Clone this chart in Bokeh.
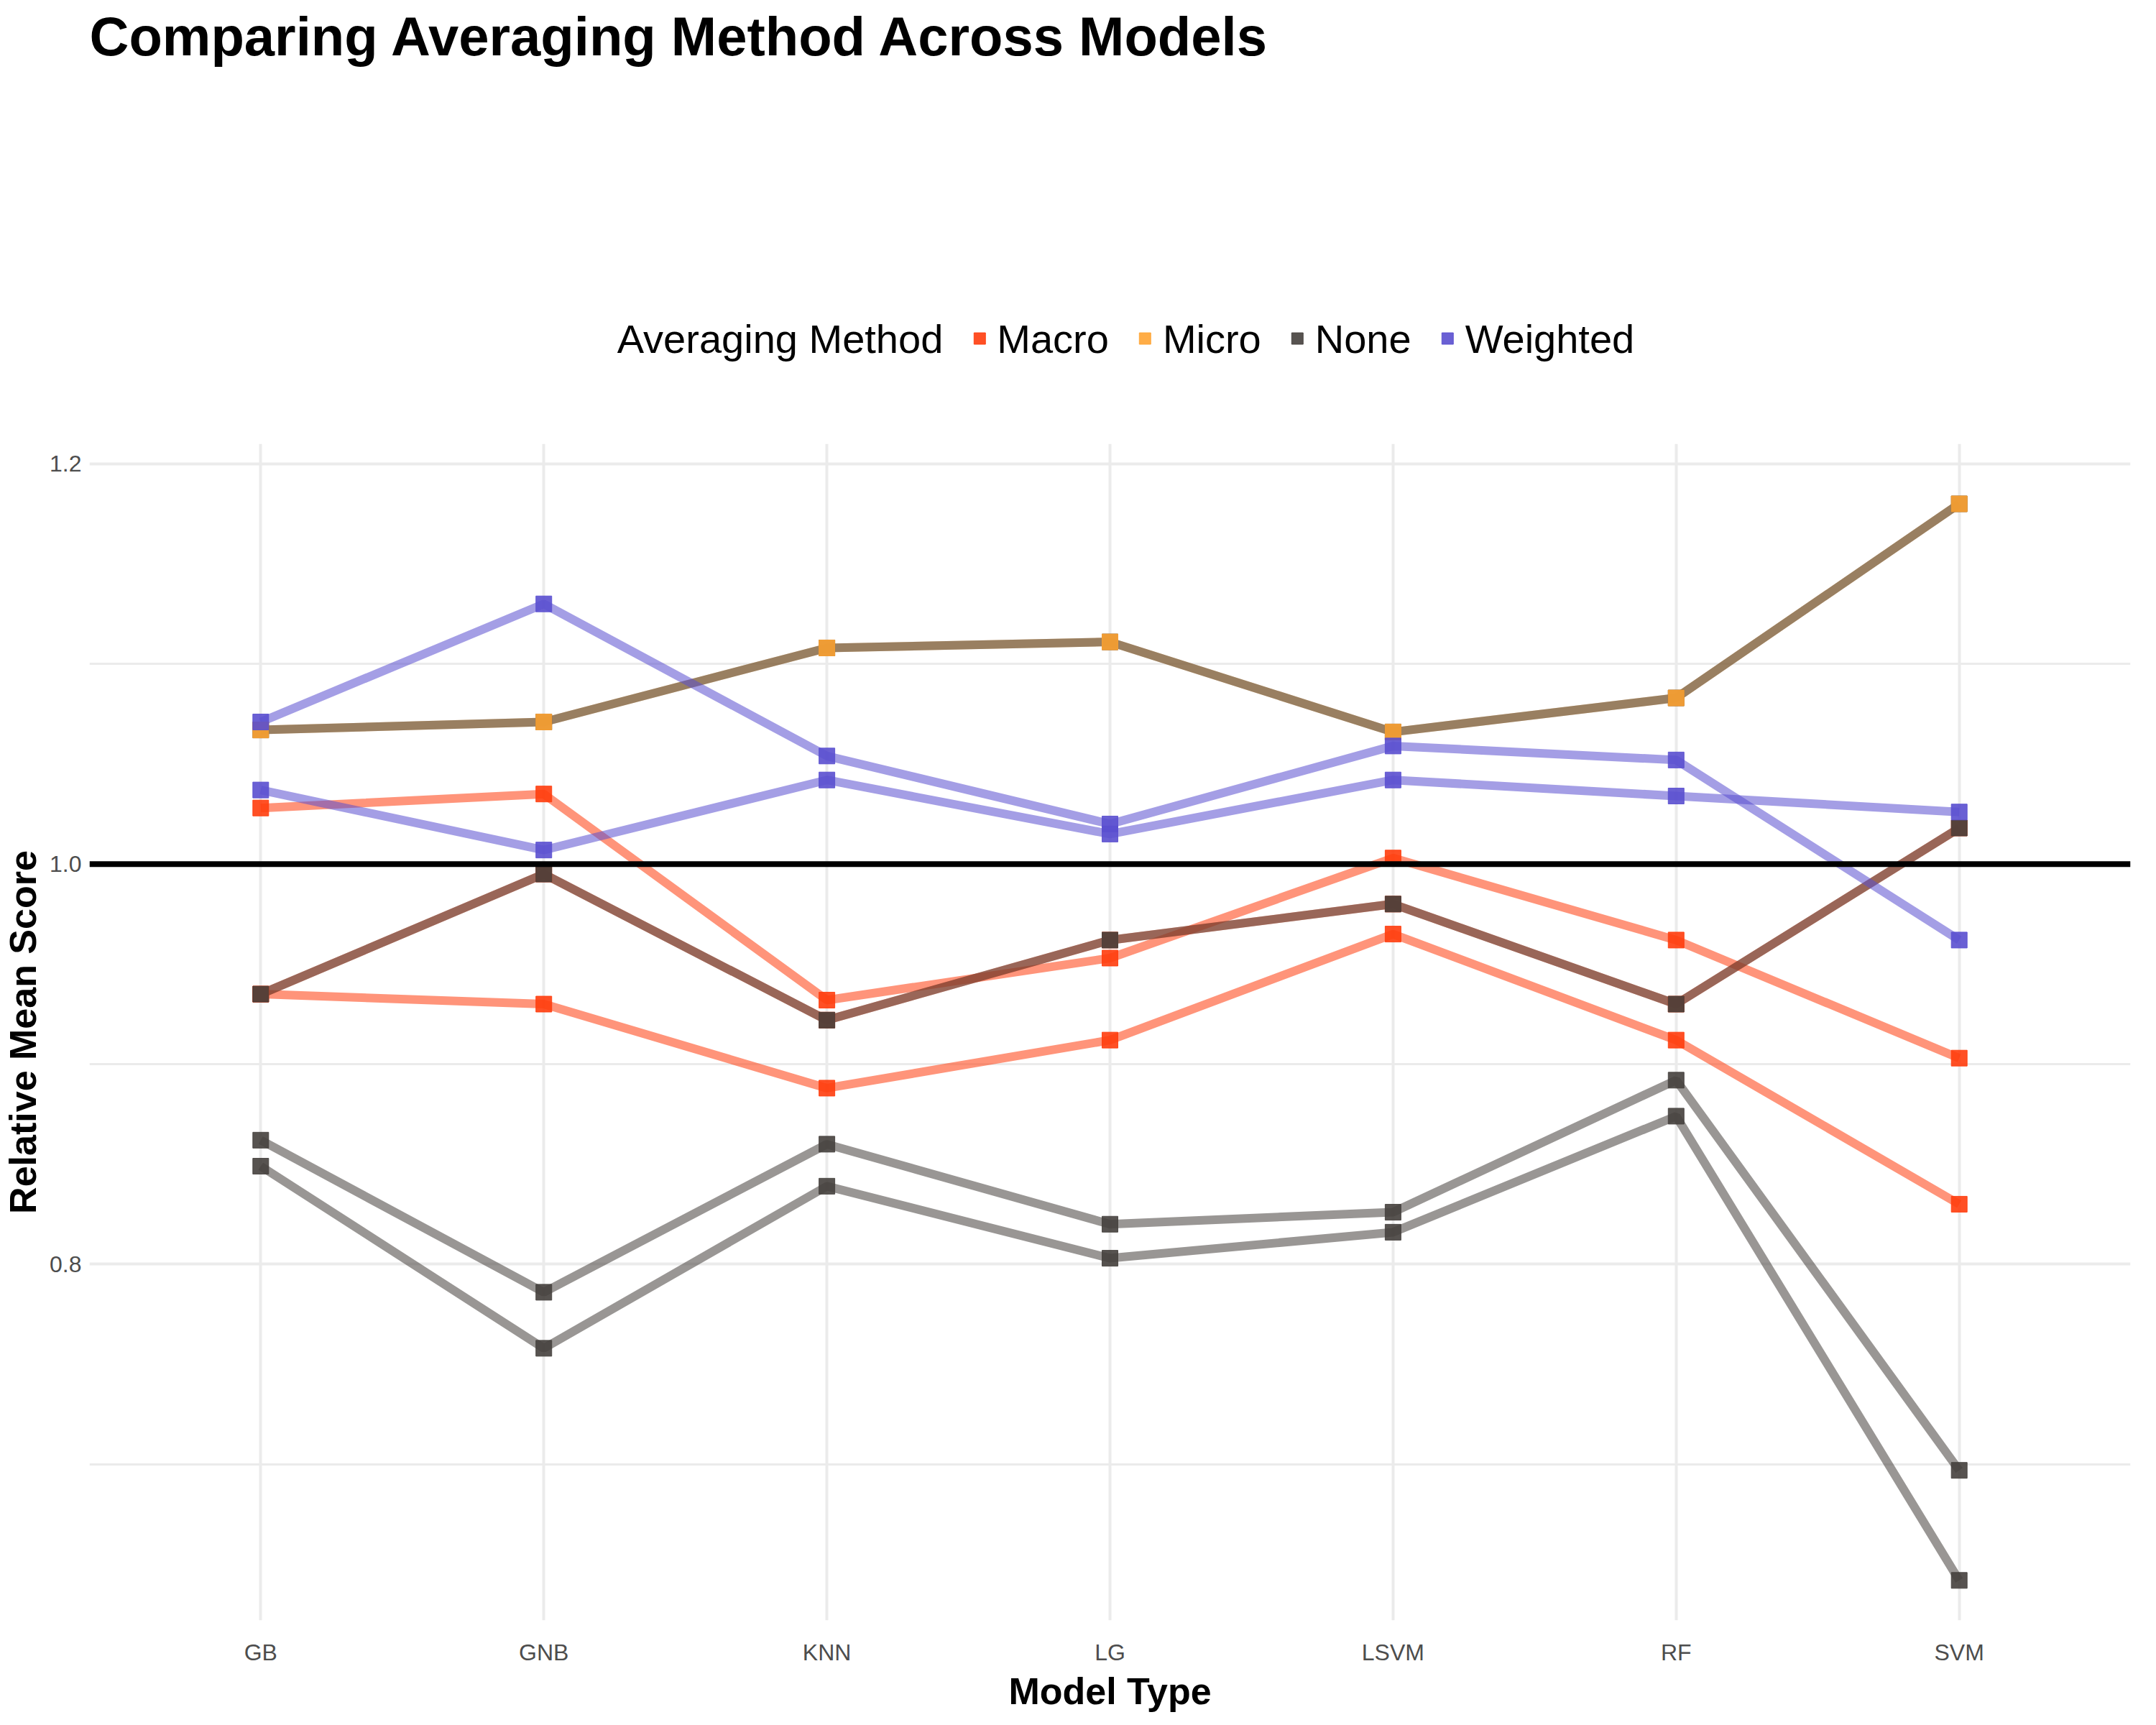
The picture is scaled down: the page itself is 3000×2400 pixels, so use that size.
from bokeh.plotting import figure
from bokeh.models import Legend, LegendItem, Span, FixedTicker, FactorRange
from bokeh.embed import file_html
from bokeh.resources import INLINE

models = ["GB", "GNB", "KNN", "LG", "LSVM", "RF", "SVM"]

# several scores per averaging method (overlapping lines where identical)
macro_a = [1.028, 1.035, 0.932, 0.953, 1.003, 0.962, 0.903]
macro_b = [0.935, 0.930, 0.888, 0.912, 0.965, 0.912, 0.830]
macro_c = [0.935, 0.995, 0.922, 0.962, 0.980, 0.930, 1.018]
none_a = [0.862, 0.786, 0.860, 0.820, 0.826, 0.892, 0.697]
none_b = [0.849, 0.758, 0.839, 0.803, 0.816, 0.874, 0.642]
none_c = [0.935, 0.995, 0.922, 0.962, 0.980, 0.930, 1.018]
none_d = [1.067, 1.071, 1.108, 1.111, 1.066, 1.083, 1.180]
micro_a = [1.067, 1.071, 1.108, 1.111, 1.066, 1.083, 1.180]
weighted_a = [1.071, 1.130, 1.054, 1.020, 1.059, 1.052, 0.962]
weighted_b = [1.037, 1.007, 1.042, 1.015, 1.042, 1.034, 1.026]

colors = {"Macro": "#FF3D0D", "Micro": "#FFA433", "None": "#45403D", "Weighted": "#5A4FCF"}
lines = {"Macro": [macro_a, macro_b, macro_c],
         "Micro": [micro_a],
         "None": [none_a, none_b, none_c, none_d],
         "Weighted": [weighted_a, weighted_b]}
line_order = ["Macro", "Micro", "None", "Weighted"]
marker_order = ["Macro", "None", "Micro", "Weighted"]
legend_order = ["Macro", "Micro", "None", "Weighted"]

p = figure(width=2984, height=2384, x_range=FactorRange(*models, range_padding=0.03),
           y_range=(0.622, 1.21),
           output_backend="svg", toolbar_location=None,
           title="Comparing Averaging Method Across Models")
p.title.text_font = "Liberation Sans"
p.title.text_font_size = "76px"
p.title.text_font_style = "bold"
p.title.text_color = "black"
p.outline_line_color = None
p.min_border_left = 40
p.min_border_right = 20

for name in line_order:
    for ys in lines[name]:
        p.line(models, ys, line_color=colors[name], line_alpha=0.55, line_width=12)

renderers = {}
for name in marker_order:
    for ys in lines[name]:
        r = p.scatter(models, ys, marker="square", size=22, fill_color=colors[name],
                      line_color=colors[name], alpha=0.9)
        renderers.setdefault(name, r)

blank = p.scatter([models[0]], [1.0], marker="square", size=1, alpha=0)

p.add_layout(Span(location=1.0, dimension="width", line_color="black", line_width=8))

p.yaxis.ticker = FixedTicker(ticks=[0.8, 1.0, 1.2], minor_ticks=[0.7, 0.9, 1.1])
p.yaxis.formatter.use_scientific = False
p.yaxis.major_label_overrides = {0.8: "0.8", 1.0: "1.0", 1.2: "1.2"}
p.ygrid.minor_grid_line_color = "#EBEBEB"
p.ygrid.minor_grid_line_width = 3
p.ygrid.grid_line_color = "#EBEBEB"
p.ygrid.grid_line_width = 4
p.xgrid.grid_line_color = "#EBEBEB"
p.xgrid.grid_line_width = 4
for ax in (p.xaxis, p.yaxis):
    ax.axis_line_color = None
    ax.major_tick_line_color = None
    ax.minor_tick_line_color = None
    ax.major_label_text_font = "Liberation Sans"
    ax.major_label_text_font_size = "32px"
    ax.major_label_text_color = "#4D4D4D"
    ax.axis_label_text_font = "Liberation Sans"
    ax.axis_label_text_font_size = "52px"
    ax.axis_label_text_font_style = "bold"
    ax.axis_label_text_color = "black"
p.xaxis.axis_label = "Model Type"
p.yaxis.axis_label = "Relative Mean Score"
p.xaxis.axis_label_standoff = 4
p.xaxis.major_label_standoff = 20

items = [LegendItem(label="Averaging Method", renderers=[blank])]
items += [LegendItem(label=n, renderers=[renderers[n]]) for n in legend_order]
legend = Legend(items=items, orientation="horizontal", location="center")
legend.label_text_font = "Liberation Sans"
legend.label_text_font_size = "56px"
legend.label_text_color = "black"
legend.border_line_color = None
legend.glyph_width = 40
legend.glyph_height = 40
legend.spacing = 30
legend.margin = 10
legend.padding = 10
p.add_layout(legend, "above")

open("out.html", "w").write(file_html(p, INLINE))
